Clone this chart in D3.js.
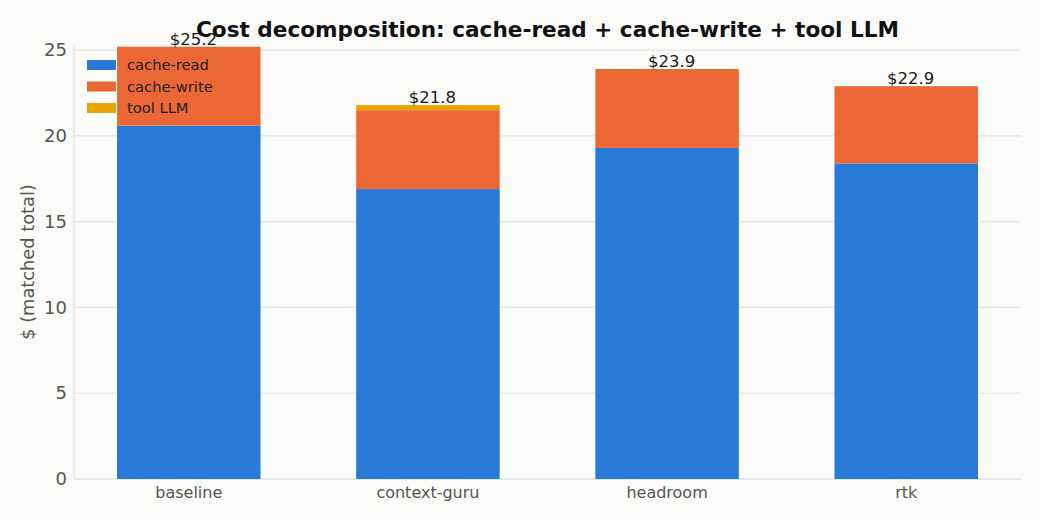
<!DOCTYPE html>
<html>
<head>
<meta charset="utf-8">
<script src="https://cdn.jsdelivr.net/npm/d3@7"></script>
<style>
  body { margin: 0; background: #fbfbf9; }
  svg { font-family: "DejaVu Sans", sans-serif; }
</style>
</head>
<body>
<div class="chart"></div>
<script>
// data
const categories = ["baseline", "context-guru", "headroom", "rtk"];
const cacheRead = [20.6, 16.9, 19.3, 18.4];
const cacheWrite = [4.6, 4.6, 4.6, 4.5];
const toolLLM = [0, 0.3, 0, 0];
const seriesNames = ["cache-read", "cache-write", "tool LLM"];
const yTicks = [0, 5, 10, 15, 20, 25];

const width = 1040, height = 520;
const margin = { top: 45, right: 19, bottom: 41, left: 74 };
const w = width - margin.left - margin.right;
const h = height - margin.top - margin.bottom;

const colors = d3.scaleOrdinal().domain(seriesNames).range(["#2979d6", "#eb6836", "#eba300"]);

const rows = categories.map((c, i) => ({
  name: c,
  "cache-read": cacheRead[i],
  "cache-write": cacheWrite[i],
  "tool LLM": toolLLM[i]
}));
const stacked = d3.stack().keys(seriesNames)(rows);

const x = d3.scaleBand().domain(categories).range([0, w]).paddingInner(0.4).paddingOuter(0.18);
const y = d3.scaleLinear().domain([0, 25.3]).range([h, 0]);

const svg = d3.select(".chart").append("svg")
  .attr("width", width).attr("height", height);

const g = svg.append("g").attr("transform", "translate(" + margin.left + "," + margin.top + ")");

// grid
g.append("g")
  .selectAll("line")
  .data(yTicks)
  .enter().append("line")
  .attr("x1", 0).attr("x2", w)
  .attr("y1", d => y(d)).attr("y2", d => y(d))
  .attr("stroke", "#e4e4e2").attr("stroke-width", 1.2);

// spines
g.append("line").attr("x1", 0).attr("x2", 0).attr("y1", 0).attr("y2", h)
  .attr("stroke", "#e2e2e0").attr("stroke-width", 1.2);
g.append("line").attr("x1", 0).attr("x2", w).attr("y1", h).attr("y2", h)
  .attr("stroke", "#e2e2e0").attr("stroke-width", 1.2);

// bars
g.selectAll(".layer")
  .data(stacked)
  .enter().append("g")
  .attr("class", "layer")
  .attr("fill", d => colors(d.key))
  .selectAll("rect")
  .data(d => d)
  .enter().append("rect")
  .attr("x", d => x(d.data.name))
  .attr("width", x.bandwidth())
  .attr("y", d => y(d[1]))
  .attr("height", d => y(d[0]) - y(d[1]));

// totals
g.selectAll(".total")
  .data(rows)
  .enter().append("text")
  .attr("class", "total")
  .attr("x", d => x(d.name) + x.bandwidth() / 2 + 4.5)
  .attr("y", d => y(d["cache-read"] + d["cache-write"] + d["tool LLM"]) - 2)
  .attr("text-anchor", "middle")
  .attr("font-size", 16.5)
  .attr("fill", "#1a1a1a")
  .text(d => "$" + (d["cache-read"] + d["cache-write"] + d["tool LLM"]).toFixed(1));

// axes
const yAxis = g.append("g").call(d3.axisLeft(y).tickValues(yTicks).tickSize(0).tickPadding(7));
yAxis.select(".domain").remove();
yAxis.selectAll("text").attr("font-size", 18).attr("fill", "#555").attr("font-family", "DejaVu Sans");

const xAxis = g.append("g").attr("transform", "translate(0," + h + ")")
  .call(d3.axisBottom(x).tickSize(0).tickPadding(8));
xAxis.select(".domain").remove();
xAxis.selectAll("text").attr("font-size", 16).attr("fill", "#555").attr("font-family", "DejaVu Sans");

// legend, no frame
const legend = g.append("g").attr("transform", "translate(13,15)");
seriesNames.forEach((s, i) => {
  legend.append("rect").attr("x", 0).attr("y", i * 21.5).attr("width", 29).attr("height", 10)
    .attr("fill", colors(s));
  legend.append("text").attr("x", 40).attr("y", i * 21.5 + 10)
    .attr("font-size", 14.7).attr("fill", "#222").text(s);
});

// title + y label
svg.append("text")
  .attr("x", margin.left + w / 2).attr("y", 37)
  .attr("text-anchor", "middle")
  .attr("font-size", 21.6).attr("font-weight", "bold").attr("fill", "#111")
  .text("Cost decomposition: cache-read + cache-write + tool LLM");

svg.append("text")
  .attr("transform", "translate(34," + (margin.top + h / 2) + ") rotate(-90)")
  .attr("text-anchor", "middle")
  .attr("font-size", 17.8).attr("fill", "#555")
  .text("$ (matched total)");
</script>
</body>
</html>
